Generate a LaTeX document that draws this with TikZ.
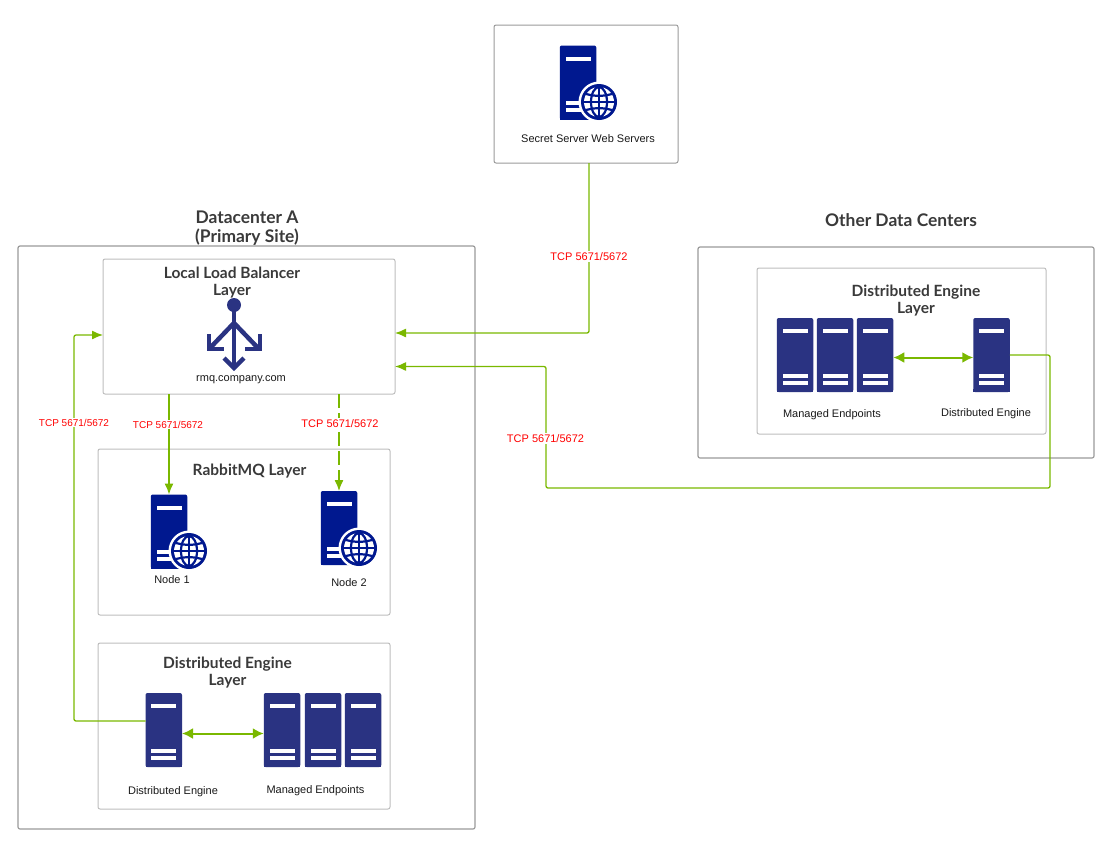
\documentclass[tikz,border=0pt]{standalone}
\usepackage{fontspec}
\setmainfont{Liberation Sans}
\newfontfamily\latofont{Lato}
\usetikzlibrary{calc,arrows.meta}
\definecolor{srvblue}{HTML}{2A3382}
\definecolor{webblue}{HTML}{00188F}
\definecolor{linkgreen}{HTML}{7AB800}
\definecolor{outergray}{HTML}{9A9A9A}
\definecolor{innergray}{HTML}{BDBDBD}
\definecolor{titlegray}{HTML}{3A3A3A}
\tikzset{
  outerbox/.style={draw=outergray,line width=1.2pt,rounded corners=2pt,minimum width=#1,outer sep=0pt,inner sep=0pt},
  innerbox/.style={draw=innergray,line width=1pt,rounded corners=2pt,minimum width=#1,outer sep=0pt,inner sep=0pt},
  title/.style={font=\latofont\bfseries\fontsize{17.4}{19}\selectfont,text=titlegray,align=center},
  smalltitle/.style={font=\latofont\bfseries\fontsize{15.5}{17}\selectfont,text=titlegray,align=center},
  label/.style={font=\fontsize{11}{13}\selectfont,text=black!90},
  tcp/.style={font=\fontsize{#1}{12}\selectfont,text=red,fill=white,inner sep=1pt},
  link/.style={draw=linkgreen,line width=1.3pt,rounded corners=2pt,-{Latex[length=11pt,width=9pt]}},
  duplex/.style={draw=linkgreen,line width=2pt,{Latex[length=11pt,width=11pt]}-{Latex[length=11pt,width=11pt]}},
  rack/.style={fill=#1,minimum width=36.5pt,minimum height=74pt,inner sep=0pt,outer sep=0pt,rounded corners=2pt},
  server/.style={rack=srvblue,path picture={
      \coordinate (c) at (path picture bounding box.center);
      \fill[white,sharp corners] ($(c)+(-12.5,-26)$) rectangle ($(c)+(12.5,-22)$);
      \fill[white,sharp corners] ($(c)+(-12.5,19)$) rectangle ($(c)+(12.5,23)$);
      \fill[white,sharp corners] ($(c)+(-12.5,26)$) rectangle ($(c)+(12.5,30)$);},
    append after command={\pgfextra{\fill[srvblue,sharp corners] ([yshift=3pt]\tikzlastnode.south west) rectangle (\tikzlastnode.south east);}}},
  webserver/.style={rack=webblue,path picture={
      \coordinate (c) at (path picture bounding box.center);
      \fill[white,sharp corners] ($(c)+(-12.5,-26)$) rectangle ($(c)+(12.5,-22)$);
      \fill[white,sharp corners] ($(c)+(-12.5,18.5)$) rectangle ($(c)+(12.5,22.5)$);
      \fill[white,sharp corners] ($(c)+(-12.5,25.5)$) rectangle ($(c)+(12.5,29.5)$);},
    append after command={\pgfextra{\fill[webblue,sharp corners] ([yshift=4pt]\tikzlastnode.south west) rectangle (\tikzlastnode.south east);}}},
  pics/globe/.style={code={
      \fill[white] (0,0) circle (20.5);
      \fill[webblue] (0,0) circle (18);
      \fill[white] (0,0) circle (15);
      \begin{scope}[webblue,line width=2.2pt]
        \draw (0,-15)--(0,15);
        \draw (0,0) ellipse (8 and 15);
        \draw (-15,0)--(15,0);
        \draw (-13,-8) to[bend right=14] (13,-8);
        \draw (-13,8) to[bend left=14] (13,8);
      \end{scope}
  }},
}
\begin{document}
\begin{tikzpicture}[x=1pt,y=-1pt]
\useasboundingbox (0,0) rectangle (1113,846);

% boxes
\node[innerbox=184pt,draw=outergray,minimum height=138pt] (webbox) at (586,94) {};
\node[outerbox=457pt,minimum height=583pt] (sitebox) at (246.5,537.5) {};
\node[innerbox=292pt,minimum height=135pt] (lbbox) at (249,326.5) {};
\node[innerbox=292pt,minimum height=166pt] (rabbitbox) at (244,532) {};
\node[innerbox=292pt,minimum height=166pt] (debox) at (244,726) {};
\node[outerbox=396pt,minimum height=211pt] (otherbox) at (896,352.5) {};
\node[innerbox=289pt,minimum height=166pt] (otherdebox) at (901.5,351) {};

% titles
\node[title] (sitetitle) at (247,228) {Datacenter A\\(Primary Site)};
\node[title] (othertitle) at (901,220.5) {Other Data Centers};
\node[smalltitle] (lbtitle) at (232,283) {Local Load Balancer\\Layer};
\node[smalltitle] (rabbittitle) at (249.5,471) {RabbitMQ Layer};
\node[smalltitle] (detitle) at (227.5,673) {Distributed Engine\\Layer};
\node[smalltitle] (otherdetitle) at (916,301) {Distributed Engine\\Layer};

% servers
\node[webserver] (websrv) at (578,82.5) {};
\pic at (599,102) {globe};
\node[webserver] (nodeone) at (169,531.5) {};
\pic at (189,551) {globe};
\node[webserver] (nodetwo) at (339,528) {};
\pic at (359,548) {globe};

\node[server] (desrv) at (163.75,730) {};
\node[server] (mgdA) at (282,730) {};
\node[server] (mgdB) at (323,730) {};
\node[server] (mgdC) at (363,730) {};

\node[server] (othA) at (795,355) {};
\node[server] (othB) at (835,355) {};
\node[server] (othC) at (875,355) {};
\node[server] (othde) at (991.5,355) {};

% balancer icon
\node[circle,fill=srvblue,minimum size=14pt,inner sep=0pt] (lbhub) at (234,305) {};
\begin{scope}[draw=srvblue,line width=4.5pt]
  \draw (lbhub.center)--(234,368);
  \draw[miter limit=10] (224,358)--(234,368)--(244,358);
  \draw (234,323)--(210,348);
  \draw (234,323)--(258,348);
  \draw (209,334)--(209,349)--(224,349);
  \draw (260,334)--(260,349)--(245,349);
\end{scope}

% labels
\node[label] (weblabel) at (588,139) {Secret Server Web Servers};
\node[label] (lblabel) at (241,380) {rmq.company.com};
\node[label] (onelabel) at (172,580) {Node 1};
\node[label] (twolabel) at (349,583) {Node 2};
\node[label] (delabel) at (173,792) {Distributed Engine};
\node[label] (mgdlabel) at (315.5,791) {Managed Endpoints};
\node[label] (othmgdlabel) at (832,415) {Managed Endpoints};
\node[label] (othdelabel) at (986,414) {Distributed Engine};

% connectors
\draw[link] ([xshift=3pt]webbox.south) |- ([yshift=-6.5pt]lbbox.east);
\draw[link] (othde.east) -- (1050,355) -- (1050,488) -- (546,488) -- (546,366.5) -- ([yshift=-40pt]lbbox.east);
\draw[link] (lbbox.south -| nodeone.north) -- (nodeone.north);
\draw[link,dash pattern=on 14pt off 5pt] (lbbox.south -| nodetwo.north) -- (nodetwo.north);
\draw[link] ([yshift=9pt]desrv.west) -- (74,721) -- (74,335) -- ([yshift=-8.5pt]lbbox.west);
\draw[duplex] (desrv.east |- 0,733.5) -- (mgdA.west |- 0,733.5);
\draw[duplex] (othC.east |- 0,357.5) -- (othde.west |- 0,357.5);

% port labels
\node[tcp=10] (tcpleft) at (74,422.5) {TCP 5671/5672};
\node[tcp=10] (tcpone) at (168,424.5) {TCP 5671/5672};
\node[tcp=11] (tcptwo) at (340,423.5) {TCP 5671/5672};
\node[tcp=11] (tcpweb) at (589,256.5) {TCP 5671/5672};
\node[tcp=11] (tcpother) at (545.5,438.5) {TCP 5671/5672};
\end{tikzpicture}
\end{document}
